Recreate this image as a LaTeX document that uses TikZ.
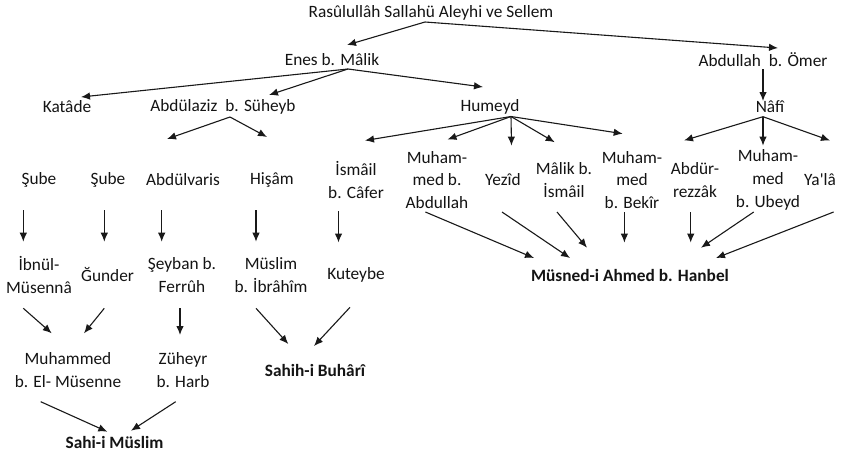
\documentclass[tikz,border=0pt]{standalone}
\usepackage{fontspec}
\setmainfont{Carlito}
\usetikzlibrary{calc,arrows.meta}
\begin{document}
\begin{tikzpicture}[x=1pt,y=-1pt,
  lbl/.style={inner sep=0pt,align=center,text=black!92,font=\fontsize{17.3}{22.8}\selectfont},
  bold/.style={lbl,font=\fontsize{17.3}{22.8}\selectfont\bfseries},
  arr/.style={-{Latex[length=9pt,width=7.5pt]},line width=1.1pt,black!90}]
\useasboundingbox[fill=white] (0,0) rectangle (853,453);
% nodes
\node[lbl] (top) at (431,13) {Rasûlullâh Sallahü Aleyhi ve Sellem};
\node[lbl] (enes) at (332,60) {Enes b. Mâlik};
\node[lbl] (abdullah) at (763,60) {Abdullah\ \ b. Ömer};
\node[lbl] (katade) at (67,107) {Katâde};
\node[lbl] (abdulaziz) at (223,107) {Abdülaziz\ \ b. Süheyb};
\node[lbl] (humeyd) at (490,107) {Humeyd};
\node[lbl] (nafi) at (770,107) {Nâfî};
\node[lbl] (sube1) at (39,180) {Şube};
\node[lbl] (sube2) at (108,180) {Şube};
\node[lbl] (abdulvaris) at (183,180) {Abdülvaris};
\node[lbl] (hisam) at (272,180) {Hişâm};
\node[lbl] (ismail) at (356,180) {İsmâil\\b. Câfer};
\node[lbl] (muhAbd) at (437,180) {Muham-\\med b.\\Abdullah};
\node[lbl] (yezid) at (503,180) {Yezîd};
\node[lbl] (malik) at (564,180) {Mâlik b.\\İsmâil};
\node[lbl] (muhBekir) at (632,180) {Muham-\\med\\b. Bekîr};
\node[lbl] (abdurrezzak) at (695,180) {Abdür-\\rezzâk};
\node[lbl] (muhUbeyd) at (768,180) {Muham-\\med\\b. Ubeyd};
\node[lbl] (yala) at (820,180) {Ya\textquotesingle lâ};
\node[lbl] (ibnul) at (39,275) {İbnül-\\Müsennâ};
\node[lbl] (gunder) at (107.5,275) {Ğunder};
\node[lbl] (seyban) at (182,275) {Şeyban b.\\Ferrûh};
\node[lbl] (muslimIb) at (271,275) {Müslim\\b. İbrâhîm};
\node[lbl] (kuteybe) at (356,275) {Kuteybe};
\node[bold] (musned) at (630,275) {Müsned-i Ahmed b. Hanbel};
\node[lbl] (muhEl) at (68,370) {Muhammed\\b. El- Müsenne};
\node[lbl] (zuheyr) at (183,370) {Züheyr\\b. Harb};
\node[bold] (buhari) at (315,370) {Sahih-i Buhârî};
\node[bold] (muslimBook) at (114.5,442) {Sahi-i Müslim};
% connectors
\draw[arr] ($(top)+(-6,9)$) -- ($(enes)+(15,-15)$);
\draw[arr] ($(top)+(-6,9)$) -- ($(abdullah)+(15,-12)$);
\draw[arr] ($(enes)+(16,9)$) -- ($(katade)+(14,-10)$);
\draw[arr] ($(enes)+(16,9)$) -- ($(abdulaziz)+(46,-12)$);
\draw[arr] ($(enes)+(16,9)$) -- ($(humeyd)+(-7,-20)$);
\draw[arr] ($(abdullah)+(0,9)$) -- ($(nafi)+(-7,-6)$);
\draw[arr] ($(abdulaziz)+(7,10)$) -- ($(abdulvaris)+(-16,-41)$);
\draw[arr] ($(abdulaziz)+(7,10)$) -- ($(hisam)+(-5,-43)$);
\draw[arr] ($(humeyd)+(21,9.5)$) -- ($(ismail)+(9,-39.5)$);
\draw[arr] ($(humeyd)+(21,9.5)$) -- ($(muhAbd)+(10.5,-40.5)$);
\draw[arr] ($(humeyd)+(21,9.5)$) -- ($(yezid)+(8.5,-34.4)$);
\draw[arr] ($(humeyd)+(21,9.5)$) -- ($(malik)+(-9.3,-37.8)$);
\draw[arr] ($(humeyd)+(21,9.5)$) -- ($(muhBekir)+(-9.3,-46.3)$);
\draw[arr] ($(nafi)+(-7,9.7)$) -- ($(abdurrezzak)+(-11,-39.5)$);
\draw[arr] ($(nafi)+(-7,9.7)$) -- ($(muhUbeyd)+(-5,-34.4)$);
\draw[arr] ($(nafi)+(-7,9.7)$) -- ($(yala)+(10,-39.5)$);
\draw[arr] ($(sube1)+(-15.7,30)$) -- ($(ibnul)+(-15.7,-33.3)$);
\draw[arr] ($(sube2)+(-3.7,30)$) -- ($(gunder)+(-3.2,-33.3)$);
\draw[arr] ($(abdulvaris)+(-21.3,30)$) -- ($(seyban)+(-20.3,-33.3)$);
\draw[arr] ($(hisam)+(-16,30)$) -- ($(muslimIb)+(-15,-33.3)$);
\draw[arr] ($(ismail)+(-17.5,31)$) -- ($(kuteybe)+(-17.5,-32.5)$);
\draw[arr] ($(muhAbd)+(-11.6,32)$) -- ($(musned)+(-96,-17)$);
\draw[arr] ($(yezid)+(-1,32)$) -- ($(musned)+(-60,-17)$);
\draw[arr] ($(malik)+(-7,32)$) -- ($(musned)+(-43,-27.3)$);
\draw[arr] ($(muhBekir)+(-7.6,32)$) -- ($(musned)+(-5.6,-32.4)$);
\draw[arr] ($(abdurrezzak)+(-4.3,32)$) -- ($(musned)+(60.7,-32.4)$);
\draw[arr] ($(muhUbeyd)+(-14.3,32)$) -- ($(musned)+(71,-27.3)$);
\draw[arr] ($(yala)+(13.6,32)$) -- ($(musned)+(86,-17)$);
\draw[arr] ($(ibnul)+(-15.7,33.3)$) -- ($(muhEl)+(-16.3,-36.7)$);
\draw[arr] ($(gunder)+(-3.2,33.3)$) -- ($(muhEl)+(16,-36.7)$);
\draw[arr] ($(seyban)+(-2,33.3)$) -- ($(zuheyr)+(-3,-35)$);
\draw[arr] ($(muslimIb)+(-15,33.3)$) -- ($(buhari)+(-26.7,-26)$);
\draw[arr] ($(kuteybe)+(-6,32.3)$) -- ($(buhari)+(-1,-24)$);
\draw[arr] ($(muhEl)+(-27.3,31.7)$) -- ($(muslimBook)+(-7.2,-10.3)$);
\draw[arr] ($(zuheyr)+(-7.3,31.7)$) -- ($(muslimBook)+(16.5,-11.3)$);
\end{tikzpicture}
\end{document}
